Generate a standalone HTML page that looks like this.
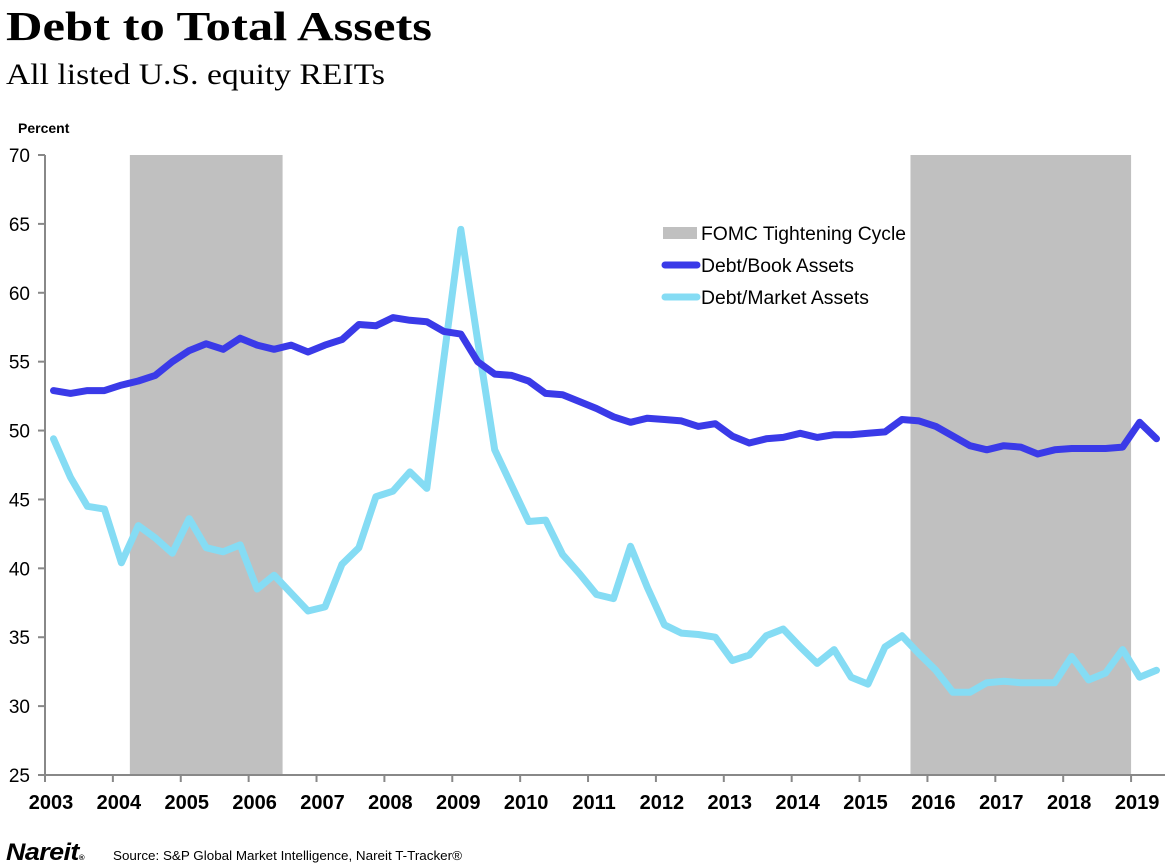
<!DOCTYPE html>
<html><head><meta charset="utf-8"><style>
body{margin:0;background:#fff;width:1169px;height:863px;overflow:hidden}
svg{display:block}
</style></head><body>
<svg id="chart" width="1169" height="863" xmlns="http://www.w3.org/2000/svg">
<text x="6" y="40" font-family="Liberation Serif, serif" font-weight="bold" font-size="41" textLength="426" lengthAdjust="spacingAndGlyphs">Debt to Total Assets</text>
<text x="6" y="84" font-family="Liberation Serif, serif" font-size="30" textLength="379" lengthAdjust="spacingAndGlyphs">All listed U.S. equity REITs</text>
<text x="18" y="133" font-family="Liberation Sans, sans-serif" font-weight="bold" font-size="14">Percent</text>
<g id="shade"></g>
<g id="axes"></g>
<g id="lines"></g>
<g font-family="Liberation Sans, sans-serif" font-size="19">
<rect x="663" y="227" width="34" height="12" fill="#c0c0c0"/>
<text x="701" y="240" textLength="205" lengthAdjust="spacingAndGlyphs">FOMC Tightening Cycle</text>
<line x1="665" y1="265" x2="697" y2="265" stroke="#3a3ae8" stroke-width="7" stroke-linecap="round"/>
<text x="701" y="272" textLength="153" lengthAdjust="spacingAndGlyphs">Debt/Book Assets</text>
<line x1="665" y1="297" x2="697" y2="297" stroke="#85dcf4" stroke-width="7" stroke-linecap="round"/>
<text x="701" y="304" textLength="168" lengthAdjust="spacingAndGlyphs">Debt/Market Assets</text>
</g>
<text x="6" y="860" font-family="Liberation Sans, sans-serif" font-weight="bold" font-size="24" font-style="italic" letter-spacing="-0.5" textLength="78" lengthAdjust="spacingAndGlyphs">Nareit<tspan font-size="7">®</tspan></text>
<text x="113" y="860" font-family="Liberation Sans, sans-serif" font-size="12.5" textLength="349" lengthAdjust="spacingAndGlyphs">Source: S&amp;P Global Market Intelligence, Nareit T-Tracker®</text>
</svg>
<script>
const years=[2003,2004,2005,2006,2007,2008,2009,2010,2011,2012,2013,2014,2015,2016,2017,2018,2019];
const yTicks=[25,30,35,40,45,50,55,60,65,70];
const startYear=2003.125;
const bookAssets=[52.9,52.7,52.9,52.9,53.3,53.6,54.0,55.0,55.8,56.3,55.9,56.7,56.2,55.9,56.2,55.7,56.2,56.6,57.7,57.6,58.2,58.0,57.9,57.2,57.0,55.0,54.1,54.0,53.6,52.7,52.6,52.1,51.6,51.0,50.6,50.9,50.8,50.7,50.3,50.5,49.6,49.1,49.4,49.5,49.8,49.5,49.7,49.7,49.8,49.9,50.8,50.7,50.3,49.6,48.9,48.6,48.9,48.8,48.3,48.6,48.7,48.7,48.7,48.8,50.6,49.4];
const marketAssets=[49.4,46.6,44.5,44.3,40.4,43.1,42.2,41.1,43.6,41.5,41.2,41.7,38.5,39.5,38.2,36.9,37.2,40.3,41.5,45.2,45.6,47.0,45.8,55.2,64.6,56.5,48.6,46.0,43.4,43.5,41.0,39.6,38.1,37.8,41.6,38.6,35.9,35.3,35.2,35.0,33.3,33.7,35.1,35.6,34.3,33.1,34.1,32.1,31.6,34.3,35.1,33.8,32.6,31.0,31.0,31.7,31.8,31.7,31.7,31.7,33.6,31.9,32.4,34.1,32.1,32.6];
const cycleStart=[2004.25,2015.75];
const cycleEnd=[2006.5,2019.0];
const NS='http://www.w3.org/2000/svg';
const X=y=>45+(y-2003)*67.88;
const Y=v=>775-(v-25)*(620/45);
function mk(t,a,p){const e=document.createElementNS(NS,t);for(const k in a)e.setAttribute(k,a[k]);p.appendChild(e);return e;}
const shade=document.getElementById('shade');
cycleStart.forEach((s,i)=>{const r=mk('rect',{x:X(s),y:Y(70),width:X(cycleEnd[i])-X(s),height:Y(25)-Y(70),fill:'#c0c0c0'},shade);

});
const ax=document.getElementById('axes');
const yl=mk('line',{x1:45,y1:Y(70),x2:45,y2:Y(25),stroke:'#888','stroke-width':2},ax);


const xl=mk('line',{x1:38,y1:775,x2:1165,y2:775,stroke:'#888','stroke-width':2},ax);


yTicks.forEach(v=>{const t=mk('line',{x1:38,y1:Y(v),x2:45,y2:Y(v),stroke:'#888','stroke-width':2},ax);


const l=mk('text',{x:30,y:Y(v)+7,'text-anchor':'end','font-family':'Liberation Sans, sans-serif','font-size':19},ax);l.textContent=v;

});
years.forEach(yr=>{const t=mk('line',{x1:X(yr),y1:775,x2:X(yr),y2:782,stroke:'#888','stroke-width':2},ax);


const l=mk('text',{x:X(yr)+6,y:809,'text-anchor':'middle','font-family':'Liberation Sans, sans-serif','font-size':20,'font-weight':'bold'},ax);l.textContent=yr;

});
const lg=document.getElementById('lines');
function line(vals,color,name){const pts=vals.map((v,i)=>X(startYear+i*0.25).toFixed(1)+','+Y(v).toFixed(1)).join(' ');
const p=mk('polyline',{points:pts,fill:'none',stroke:color,'stroke-width':7,'stroke-linejoin':'round','stroke-linecap':'round'},lg);

}
line(marketAssets,'#85dcf4','debt-market-assets-line');
line(bookAssets,'#3a3ae8','debt-book-assets-line');
</script>
</body></html>
